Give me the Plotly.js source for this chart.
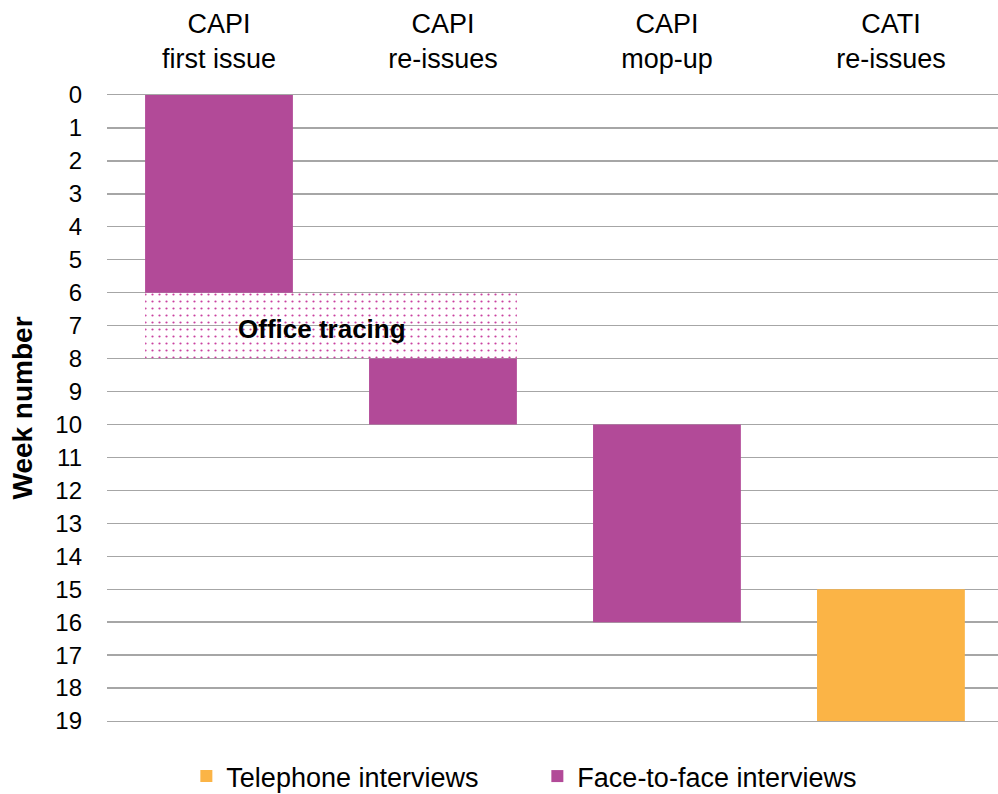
<!DOCTYPE html>
<html>
<head>
<meta charset="utf-8">
<script src="https://cdn.plot.ly/plotly-3.0.1.min.js"></script>
<style>
html,body{margin:0;padding:0;background:#fff;overflow:hidden;}
#chart{width:998px;height:794px;}
</style>
</head>
<body>
<div id="chart"></div>
<script>
// ---- data ----
const categories = ['CAPI<br>first issue', 'CAPI<br>re-issues', 'CAPI<br>mop-up', 'CATI<br>re-issues'];
const weekTicks = [0,1,2,3,4,5,6,7,8,9,10,11,12,13,14,15,16,17,18,19];

const faceCat   = [0, 1, 2];
const faceStart = [0, 8, 10];
const faceEnd   = [6, 10, 16];

const phoneCat   = [3];
const phoneStart = [15];
const phoneEnd   = [19];

const tracingCats  = [0, 1];   // spans first issue through re-issues
const tracingStart = 6;
const tracingEnd   = 8;
const tracingLabel = 'Office tracing';

// ---- styling ----
const MAGENTA = '#B24A98';
const ORANGE = '#FBB446';
const GRID = '#A6A6A6';
const BAR_W = 0.66;
const FONT = 'Liberation Sans, Arial, Helvetica, sans-serif';

const dur = (s, e) => s.map((v, i) => e[i] - v);

const traces = [
  {
    type: 'bar', name: 'Telephone interviews',
    x: phoneCat, base: phoneStart, y: dur(phoneStart, phoneEnd),
    width: BAR_W, marker: {color: ORANGE, line: {width: 0}}
  },
  {
    type: 'bar', name: 'Face-to-face interviews',
    x: faceCat, base: faceStart, y: dur(faceStart, faceEnd),
    width: BAR_W, marker: {color: MAGENTA, line: {width: 0}}
  },
  {
    type: 'bar', name: tracingLabel, showlegend: false,
    x: [(tracingCats[0] + tracingCats[1]) / 2],
    base: [tracingStart], y: [tracingEnd - tracingStart],
    width: [tracingCats[1] - tracingCats[0] + BAR_W],
    marker: {
      color: 'rgba(255,255,255,0)', line: {width: 0},
      pattern: {shape: '.', fgcolor: '#C9419F', bgcolor: 'rgba(255,255,255,0)', size: 7, solidity: 0.08}
    }
  }
];

const layout = {
  width: 998, height: 794,
  margin: {l: 107, r: 0, t: 95, b: 73, autoexpand: false},
  paper_bgcolor: '#fff', plot_bgcolor: '#fff',
  barmode: 'overlay',
  font: {family: FONT, color: '#000'},
  showlegend: true,
  legend: {
    orientation: 'h', x: 0.483, xanchor: 'center',
    yref: 'container', y: 0.022, yanchor: 'middle',
    font: {size: 27, family: FONT, color: '#000'},
    traceorder: 'normal', itemwidth: 30, entrywidth: 306
  },
  xaxis: {
    side: 'top',
    range: [-0.5, 3.478],
    tickmode: 'array',
    tickvals: categories.map((c, i) => i),
    ticktext: categories,
    tickfont: {size: 27, family: FONT, color: '#000'},
    showgrid: false, zeroline: false,
    showline: true, mirror: true, linecolor: GRID, linewidth: 1.4,
    ticks: '', ticklabelstandoff: 15
  },
  yaxis: {
    range: [19, 0],
    tickmode: 'array', tickvals: weekTicks, ticktext: weekTicks.map(String),
    tickfont: {size: 24, family: FONT, color: '#000'},
    showgrid: true, gridcolor: GRID, gridwidth: 1.4,
    zeroline: false, showline: false, ticks: '',
    ticklabelstandoff: 24,
    title: {text: '<b>Week number</b>', font: {size: 28, family: FONT, color: '#000'}, standoff: 14}
  },
  annotations: [{
    x: 0.46, y: (tracingStart + tracingEnd) / 2, xref: 'x', yref: 'y',
    text: '<b>' + tracingLabel + '</b>', showarrow: false, yshift: -3,
    font: {size: 26, family: FONT, color: '#000'}
  }]
};

Plotly.newPlot('chart', traces, layout, {staticPlot: true, displayModeBar: false});
</script>
</body>
</html>
